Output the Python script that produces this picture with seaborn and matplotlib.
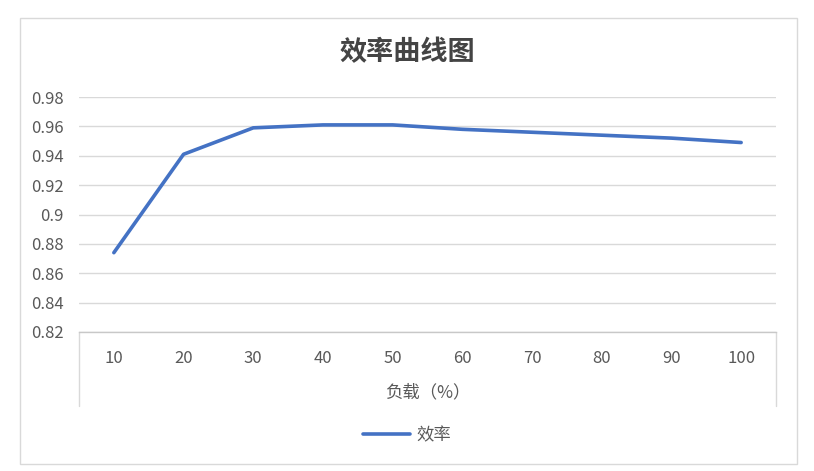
import pandas as pd
import seaborn as sns
import matplotlib.pyplot as plt
from matplotlib.patches import Rectangle

# data
loads = ["10", "20", "30", "40", "50", "60", "70", "80", "90", "100"]
efficiency = [0.874, 0.941, 0.959, 0.961, 0.961, 0.958, 0.956, 0.954, 0.952, 0.949]
y_ticks = [0.82, 0.84, 0.86, 0.88, 0.9, 0.92, 0.94, 0.96, 0.98]
y_ticklabels = ["0.82", "0.84", "0.86", "0.88", "0.9", "0.92", "0.94", "0.96", "0.98"]

df = pd.DataFrame({"负载": loads, "效率": efficiency})

sns.set_style("white")
plt.rcParams['font.family'] = ['Noto Sans CJK SC', 'DejaVu Sans']

W, H = 814, 471
fig = plt.figure(figsize=(W / 100, H / 100), dpi=100)
ax = fig.add_axes([79 / W, 1 - 332 / H, (776 - 79) / W, (332 - 97) / H])

grid_c = "#D9D9D9"
text_c = "#595959"

sns.lineplot(data=df, x="负载", y="效率", color="#4472C4", linewidth=2.6,
             label="效率", ax=ax, legend=False, zorder=3)

ax.set_xlim(-0.5, len(loads) - 0.5)
ax.set_ylim(0.82, 0.98)
ax.set_yticks(y_ticks)
ax.set_yticklabels(y_ticklabels)
ax.yaxis.grid(True, color=grid_c, linewidth=1)
ax.xaxis.grid(False)
for s in ["left", "right", "top"]:
    ax.spines[s].set_visible(False)
ax.spines["bottom"].set_color("#C8C8C8")
ax.spines["bottom"].set_linewidth(1)

ax.tick_params(axis="y", length=0, pad=11, labelsize=12, labelcolor=text_c)
ax.tick_params(axis="x", length=0, pad=13, labelsize=12, labelcolor=text_c)
ax.set_ylabel("")
ax.set_xlabel("负载（%）", fontsize=12.5, color=text_c, labelpad=12)

# box sides below the category axis
drop = -(406 - 332) / (332 - 97)
for xa in (0, 1):
    ax.plot([xa, xa], [0, drop], transform=ax.transAxes, color=grid_c,
            linewidth=1, clip_on=False)

fig.text(0.5, 1 - 52 / H, "效率曲线图", ha="center", va="center",
         fontsize=19.5, fontweight="bold", color="#444444")

handles, labels = ax.get_legend_handles_labels()
fig.legend(handles, labels, loc="center", bbox_to_anchor=(0.5, 1 - 435 / H),
           frameon=False, fontsize=12.5, handlelength=2.7, handletextpad=0.35,
           labelcolor=text_c)

fig.patches.append(Rectangle((20 / W, 1 - 464 / H), (797 - 20) / W, (464 - 18) / H,
                             transform=fig.transFigure, fill=False,
                             edgecolor=grid_c, linewidth=1))

fig.savefig("out.png", dpi=100)
